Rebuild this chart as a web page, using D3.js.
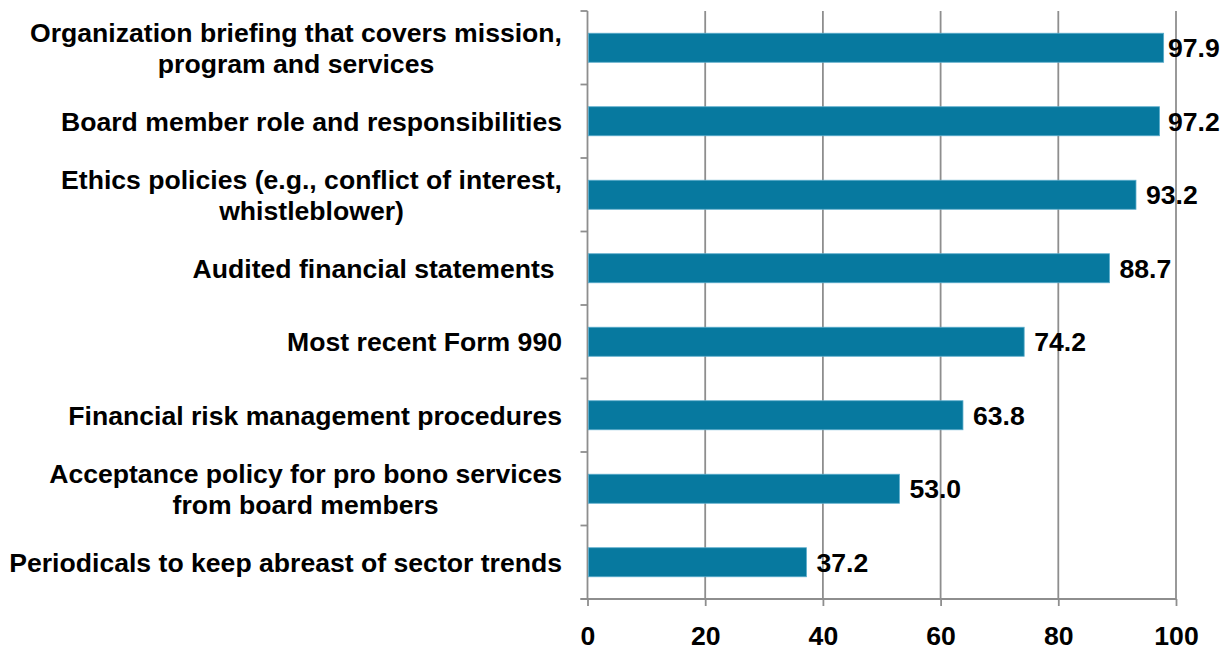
<!DOCTYPE html>
<html>
<head>
<meta charset="utf-8">
<script src="https://cdn.jsdelivr.net/npm/d3@7"></script>
<style>
  html, body { margin: 0; padding: 0; background: #fff; }
  svg { display: block; }
  text { font-family: "Liberation Sans", Arial, sans-serif; font-weight: bold; fill: #000; white-space: pre; }
</style>
</head>
<body>
<svg id="chart" width="1228" height="652"></svg>
<script>
// Board orientation materials provided (percent of organizations)
const categories = [
  ["Organization briefing that covers mission,", "program and services"],
  ["Board member role and responsibilities"],
  ["Ethics policies (e.g., conflict of interest,", "whistleblower)"],
  ["Audited financial statements "],
  ["Most recent Form 990"],
  ["Financial risk management procedures"],
  ["Acceptance policy for pro bono services", "from board members"],
  ["Periodicals to keep abreast of sector trends"]
];
const values = [97.9, 97.2, 93.2, 88.7, 74.2, 63.8, 53.0, 37.2];
const xTicks = [0, 20, 40, 60, 80, 100];

const W = 1228, H = 652;
const margin = { top: 11, right: 52, bottom: 53, left: 587.5 };
const fontSize = 26.6;
const gridColor = "#8e8e8e";

const svg = d3.select("#chart");
const keys = categories.map((c, i) => i);

const x = d3.scaleLinear().domain([0, 100]).range([margin.left, W - margin.right]);
const y = d3.scaleBand().domain(keys)
  .range([margin.top, H - margin.bottom])
  .paddingInner(0.605).paddingOuter(0.3025);

// vertical gridlines
svg.append("g").selectAll("line").data(xTicks.slice(1)).join("line")
  .attr("x1", d => x(d)).attr("x2", d => x(d))
  .attr("y1", margin.top).attr("y2", H - margin.bottom)
  .attr("stroke", gridColor).attr("stroke-width", 1.8);

// value axis along the bottom
const xAxis = svg.append("g")
  .attr("transform", `translate(0,${H - margin.bottom})`)
  .call(d3.axisBottom(x).tickValues(xTicks).tickSize(7).tickPadding(20).tickSizeOuter(0));
xAxis.select(".domain").remove();
xAxis.selectAll(".tick line").attr("stroke", gridColor).attr("stroke-width", 1.8);
xAxis.selectAll(".tick text").attr("font-size", fontSize)
  .style("font-family", "'Liberation Sans', Arial, sans-serif").style("font-weight", "bold").attr("fill", "#000");
svg.append("line")
  .attr("x1", margin.left - 7).attr("x2", x(100))
  .attr("y1", H - margin.bottom).attr("y2", H - margin.bottom)
  .attr("stroke", gridColor).attr("stroke-width", 1.8);

// category axis with ticks between bands
svg.append("line")
  .attr("x1", margin.left).attr("x2", margin.left)
  .attr("y1", margin.top).attr("y2", H - margin.bottom)
  .attr("stroke", gridColor).attr("stroke-width", 1.8);
svg.append("g").selectAll("line").data(d3.range(keys.length + 1)).join("line")
  .attr("x1", margin.left - 7).attr("x2", margin.left)
  .attr("y1", i => margin.top + i * y.step()).attr("y2", i => margin.top + i * y.step())
  .attr("stroke", gridColor).attr("stroke-width", 1.8);

// bars
svg.append("g").selectAll("rect").data(values).join("rect")
  .attr("x", x(0) + 1)
  .attr("y", (d, i) => y(i))
  .attr("width", d => x(d) - x(0) - 1)
  .attr("height", y.bandwidth())
  .attr("fill", "#07799f")
  .attr("stroke", "#5aaccb").attr("stroke-width", 0.8);

// value labels
svg.append("g").selectAll("text").data(values).join("text")
  .attr("x", d => Math.min(x(d) + 10, 1168))
  .attr("y", (d, i) => y(i) + y.bandwidth() / 2)
  .attr("dy", "0.36em")
  .attr("font-size", fontSize)
  .text(d => d.toFixed(1));

// category labels: block right-aligned, lines centred within the block
const labelRight = 562;
const lineGap = 30.5;
const labels = svg.append("g");
categories.forEach((lines, i) => {
  const cy = y(i) + y.bandwidth() / 2;
  const g = labels.append("g");
  const texts = lines.map((ln, j) => g.append("text")
    .attr("font-size", fontSize)
    .attr("y", cy + (j - (lines.length - 1) / 2) * lineGap)
    .attr("dy", "0.36em")
    .attr("text-anchor", "middle")
    .text(ln));
  const maxW = d3.max(texts, t => t.node().getComputedTextLength());
  texts.forEach(t => t.attr("x", labelRight - maxW / 2));
});
</script>
</body>
</html>
